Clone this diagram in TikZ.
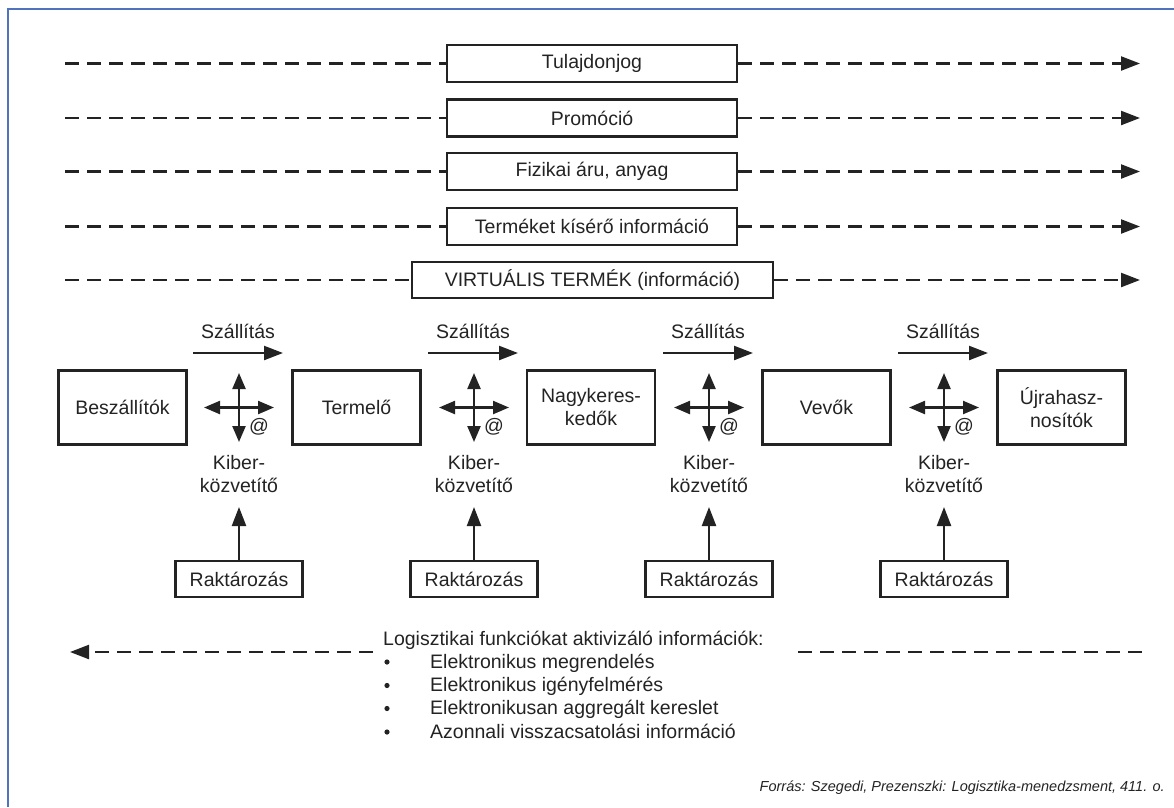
\documentclass[tikz,border=0pt]{standalone}
\usepackage{fontspec}
\setmainfont{Liberation Sans}
\usetikzlibrary{arrows.meta}
\definecolor{frameblue}{RGB}{80,115,190}
\definecolor{ink}{RGB}{35,35,35}
\begin{document}
\begin{tikzpicture}[x=1pt,y=-1pt,
  every node/.style={text=ink,font=\fontsize{19.5}{23}\selectfont},
  topbox/.style={draw=ink,line width=2.2pt,minimum width=290pt,minimum height=37pt,inner sep=0pt},
  midbox/.style={draw=ink,line width=2.2pt,minimum width=128pt,minimum height=74pt,inner sep=0pt,align=center},
  rakbox/.style={draw=ink,line width=2.2pt,minimum width=127pt,minimum height=36pt,inner sep=0pt},
  dashline/.style={draw=ink,line width=2.3pt,dash pattern=on 14pt off 8pt},
  bigtip/.style={-{Triangle[length=19pt,width=14pt]}},
  crosstip/.style={{Triangle[length=16pt,width=13pt]}-{Triangle[length=16pt,width=13pt]}},
  solidarr/.style={draw=ink,line width=2.3pt}]
\useasboundingbox (0,0) rectangle (1174,807);
% frame
\draw[frameblue,line width=2.4pt] (8,807) -- (8,9) -- (1174,9);
% top rows
\node[topbox] (t1) at (592,63.5) {Tulajdonjog};
\node[topbox] (t2) at (592,118) {Promóció};
\node[topbox] (t3) at (592,171.5) {Fizikai áru, anyag};
\node[topbox] (t4) at (592,226.5) {Terméket kísérő információ};
\node[topbox,minimum width=361pt,minimum height=36pt] (t5) at (592.5,280) {VIRTUÁLIS TERMÉK (információ)};
\foreach \i/\yy in {1/63.5,2/118,3/171.5,4/226.5,5/280}{
  \coordinate (L\i) at (65,\yy);
  \coordinate (R\i) at (1140,\yy);
  \draw[dashline] (L\i) -- (t\i.west);
  \draw[dashline,bigtip] (t\i.east) -- (R\i);
}
% middle boxes
\node[midbox] (m1) at (122.5,407.5) {Beszállítók};
\node[midbox] (m2) at (356.5,407.5) {Termelő};
\node[midbox] (m3) at (591,407.5) {Nagykeres-\\kedők};
\node[midbox] (m4) at (826.5,407.5) {Vevők};
\node[midbox] (m5) at (1061.5,407.5) {Újrahasz-\\nosítók};
% connectors between chain members
\foreach \i/\cx in {1/239,2/474,3/709,4/944}{
  \node (sz\i) at (\cx-1,331) {Szállítás};
  \coordinate (sa\i) at (\cx-46,353);
  \coordinate (sb\i) at (\cx+44,353);
  \draw[solidarr,bigtip] (sa\i) -- (sb\i);
  \coordinate (c\i) at (\cx,407.5);
  \coordinate (cl\i) at (\cx-35,407.5);
  \coordinate (cr\i) at (\cx+35,407.5);
  \coordinate (ct\i) at (\cx,373);
  \coordinate (cb\i) at (\cx,442);
  \draw[solidarr,crosstip] (cl\i) -- (cr\i);
  \draw[solidarr,crosstip] (ct\i) -- (cb\i);
  \node[inner sep=0pt] (at\i) at (\cx+20,427) {@};
  \node[align=center,inner sep=0pt] (k\i) at (\cx,474) {Kiber-\\közvetítő};
  \node[rakbox] (r\i) at (\cx,579) {Raktározás};
  \coordinate (kt\i) at (\cx,507);
  \draw[solidarr,bigtip] (r\i.north) -- (kt\i);
}
% bottom information flow
\node[anchor=base west,inner sep=0pt] (lt) at (383,645) {Logisztikai funkciókat aktivizáló információk:};
\coordinate (bl1) at (373,652);
\coordinate (bl2) at (70,652);
\coordinate (br1) at (798,652);
\coordinate (br2) at (1145,652);
\draw[dashline,bigtip] (bl1) -- (bl2);
\draw[dashline] (br1) -- (br2);
\foreach \j/\yy/\txt in {1/668/Elektronikus megrendelés,2/691.5/Elektronikus igényfelmérés,3/714.5/Elektronikusan aggregált kereslet,4/738/Azonnali visszacsatolási információ}{
  \fill[ink] (387,\yy-6) circle (2.6pt);
  \node[anchor=base west,inner sep=0pt] (li\j) at (430,\yy) {\txt};
}
% source
\node[anchor=base east,inner sep=0pt,font=\fontsize{14.5}{17}\selectfont\itshape] (src) at (1165,791) {Forrás: Szegedi, Prezenszki: Logisztika-menedzsment, 411. o.};
\end{tikzpicture}
\end{document}
